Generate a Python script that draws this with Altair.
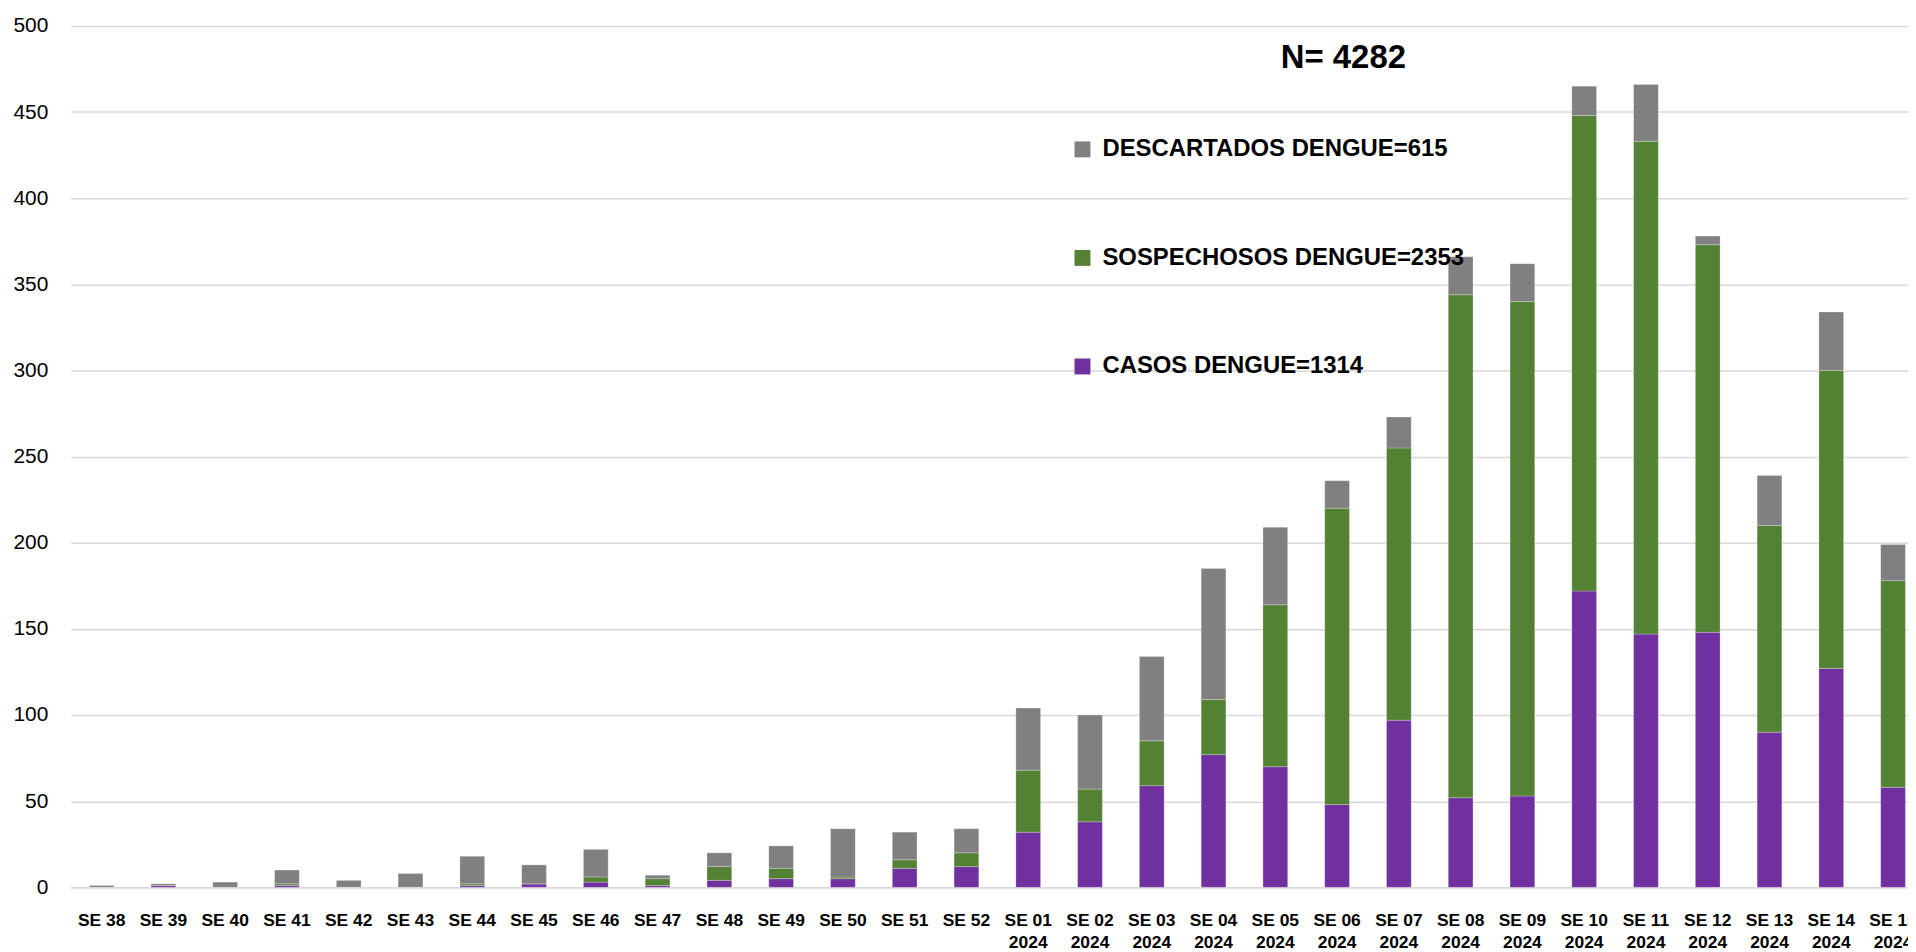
import altair as alt
import pandas as pd

weeks = ["SE 38", "SE 39", "SE 40", "SE 41", "SE 42", "SE 43", "SE 44", "SE 45",
         "SE 46", "SE 47", "SE 48", "SE 49", "SE 50", "SE 51", "SE 52",
         "SE 01|2024", "SE 02|2024", "SE 03|2024", "SE 04|2024", "SE 05|2024",
         "SE 06|2024", "SE 07|2024", "SE 08|2024", "SE 09|2024", "SE 10|2024",
         "SE 11|2024", "SE 12|2024", "SE 13|2024", "SE 14|2024", "SE 15|2024"]

casos = [0, 1, 0, 1, 0, 0, 1, 2, 3, 1, 4, 5, 5, 11, 12,
         32, 38, 59, 77, 70, 48, 97, 52, 53, 172, 147, 148, 90, 127, 58]
sospechosos = [0, 0, 0, 1, 0, 0, 1, 0, 3, 4, 8, 6, 1, 5, 8,
               36, 19, 26, 32, 94, 172, 158, 292, 287, 276, 286, 225, 120, 173, 120]
descartados = [1, 1, 3, 8, 4, 8, 16, 11, 16, 2, 8, 13, 28, 16, 14,
               36, 43, 49, 76, 45, 16, 18, 22, 22, 17, 33, 5, 29, 34, 21]

series_names = ["DESCARTADOS DENGUE=615", "SOSPECHOSOS DENGUE=2353", "CASOS DENGUE=1314"]
series_colors = ["#808080", "#548235", "#7030A0"]
title_text = "N= 4282"

rows = []
for i, w in enumerate(weeks):
    rows.append({"week": w, "serie": series_names[2], "value": casos[i], "ord": 0})
    rows.append({"week": w, "serie": series_names[1], "value": sospechosos[i], "ord": 1})
    rows.append({"week": w, "serie": series_names[0], "value": descartados[i], "ord": 2})
df = pd.DataFrame(rows)

bars = alt.Chart(df).mark_bar(stroke="#ffffff", strokeWidth=0.4, strokeOpacity=0.6).encode(
    x=alt.X("week:N", sort=weeks,
            scale=alt.Scale(range=[0, 1861], paddingInner=0.6, paddingOuter=0.3),
            axis=alt.Axis(title=None, labelExpr="split(datum.value, '|')", labelAngle=0,
                          labelFont="Liberation Sans", labelFontSize=17.5, labelFontWeight="bold",
                          labelColor="#000000", labelPadding=24, labelLineHeight=22,
                          ticks=False, domainColor="#d9d9d9", domainWidth=1.5,
                          labelOverlap=False, labelBaseline="top")),
    y=alt.Y("value:Q", stack="zero", scale=alt.Scale(domain=[0, 500], nice=False),
            axis=alt.Axis(title=None, values=list(range(0, 501, 50)), ticks=False,
                          domain=False, labelFont="Liberation Sans", labelFontSize=21,
                          labelColor="#000000", labelPadding=23,
                          gridColor="#d9d9d9", gridWidth=1.5)),
    color=alt.Color("serie:N",
                    scale=alt.Scale(domain=series_names, range=series_colors),
                    legend=alt.Legend(title=None, orient="none", legendX=1004, legendY=112,
                                      symbolType="square", symbolSize=256,
                                      symbolStrokeWidth=0, labelFont="Liberation Sans",
                                      labelFontSize=24, labelFontWeight="bold",
                                      labelColor="#000000", rowPadding=85,
                                      labelOffset=8, labelLimit=0)),
    order=alt.Order("ord:Q"),
)

title = alt.Chart(pd.DataFrame({"t": [title_text]})).mark_text(
    font="Liberation Sans", fontSize=33, fontWeight="bold", color="#000000",
    align="center", baseline="middle"
).encode(x=alt.value(1278), y=alt.value(32), text="t:N")

chart = alt.layer(bars, title).properties(
    width=1845, height=865,
    autosize=alt.AutoSizeParams(type="none"),
    padding={"left": 63, "top": 16, "right": 0, "bottom": 62},
).configure_view(stroke=None).configure_axis(gridColor="#d9d9d9")

chart.save("out.html", embed_options={"renderer": "svg", "actions": False})
